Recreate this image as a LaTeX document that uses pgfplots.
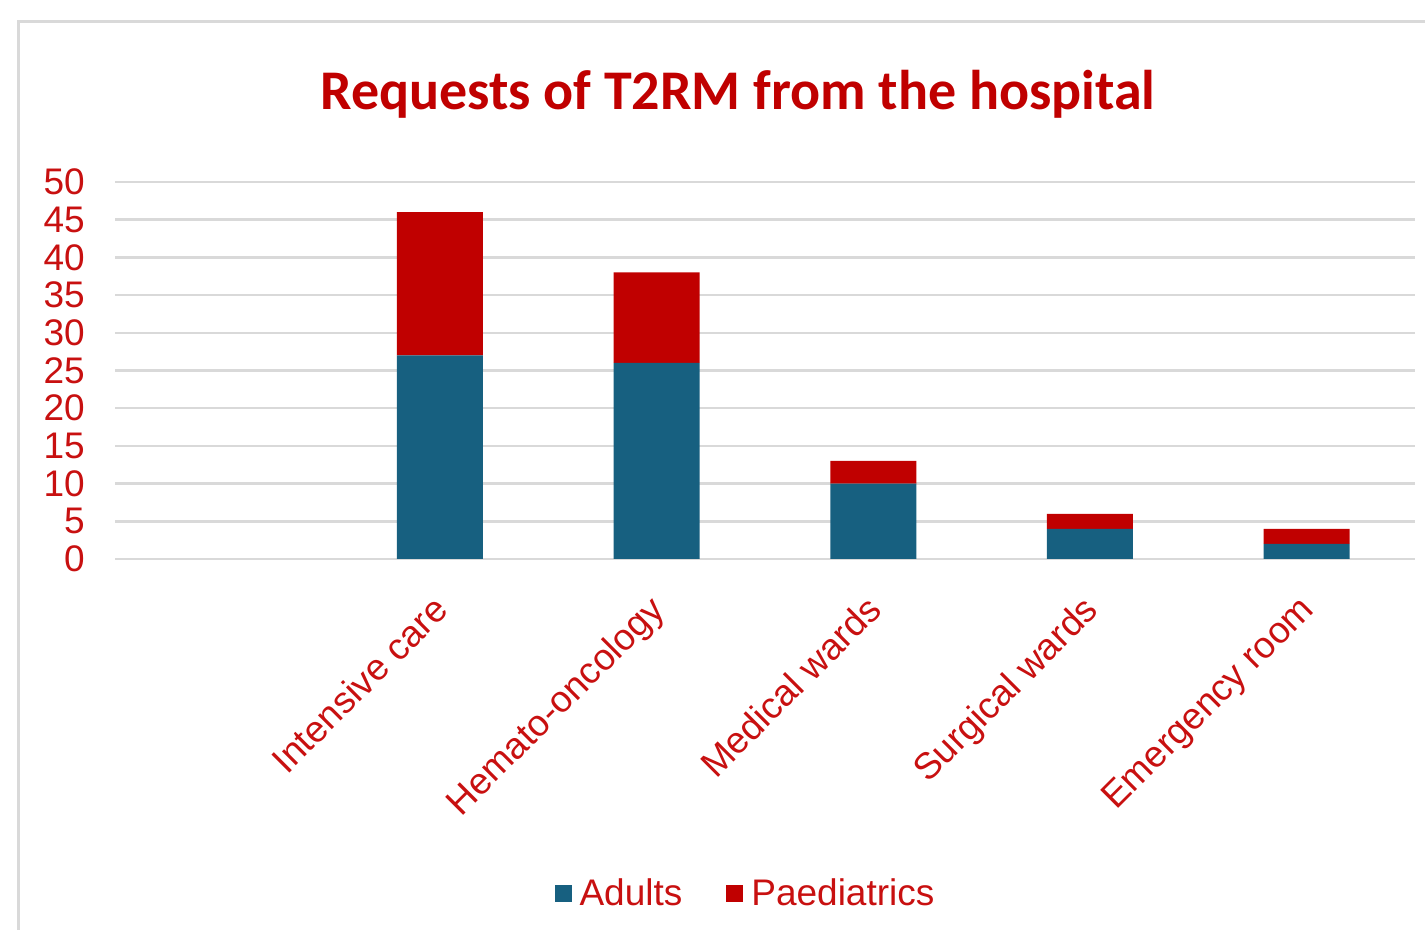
\documentclass[border=0pt]{standalone}
\usepackage{pgfplots}
\pgfplotsset{compat=1.18}
\usepackage{fontspec}
\setmainfont{Liberation Sans}
\newfontfamily\calibri{Carlito}
\definecolor{adultblue}{RGB}{23,96,128}
\definecolor{paedred}{RGB}{192,0,0}
\definecolor{gridgrey}{RGB}{217,217,217}
\definecolor{textred}{RGB}{200,16,16}
\begin{document}
\begin{tikzpicture}
\useasboundingbox (0,0) rectangle (1425bp,930bp);
\draw[gridgrey, line width=3bp] (18bp,-5bp) -- (18bp,908bp) -- (1440bp,908bp);
\node[text=paedred, font=\calibri\bfseries\fontsize{56bp}{66bp}\selectfont] at (738bp,836bp) {Requests of T2RM from the hospital};
\begin{axis}[
  at={(115bp,371bp)}, anchor=south west,
  scale only axis, width=1300bp, height=377bp,
  ybar stacked, bar width=86bp,
  xmin=-0.5, xmax=5.5, ymin=0, ymax=50,
  ytick={0,5,...,50},
  xtick={0,1,2,3,4,5},
  xticklabels={,Intensive care,Hemato-oncology,Medical wards,Surgical wards,Emergency room},
  axis line style={draw=none},
  major tick length=0pt,
  ymajorgrids,
  grid style={gridgrey, line width=2.5bp},
  /pgf/number format/assume math mode=true,
  yticklabel style={text=textred, font=\fontsize{37bp}{40bp}\selectfont, inner sep=0pt, xshift=-30bp, anchor=east},
  xticklabel style={text=textred, font=\fontsize{37bp}{40bp}\selectfont, inner sep=0pt, xshift=-9bp, yshift=-34bp, rotate=45, anchor=north east},
  legend style={at={(0.485,-0.886)}, anchor=center, draw=none, fill=none,
    legend columns=2, font=\fontsize{37bp}{40bp}\selectfont, text=textred,
    /tikz/every even column/.append style={column sep=42bp},
    nodes={inner sep=2bp}},
  legend image code/.code={\fill[#1] (0bp,-8.5bp) rectangle (17bp,8.5bp); \path (23bp,0bp);},
]
\addplot[fill=adultblue, draw=none] coordinates {(1,27) (2,26) (3,10) (4,4) (5,2)};
\addplot[fill=paedred, draw=none] coordinates {(1,19) (2,12) (3,3) (4,2) (5,2)};
\legend{Adults, Paediatrics}
\end{axis}
\end{tikzpicture}
\end{document}
